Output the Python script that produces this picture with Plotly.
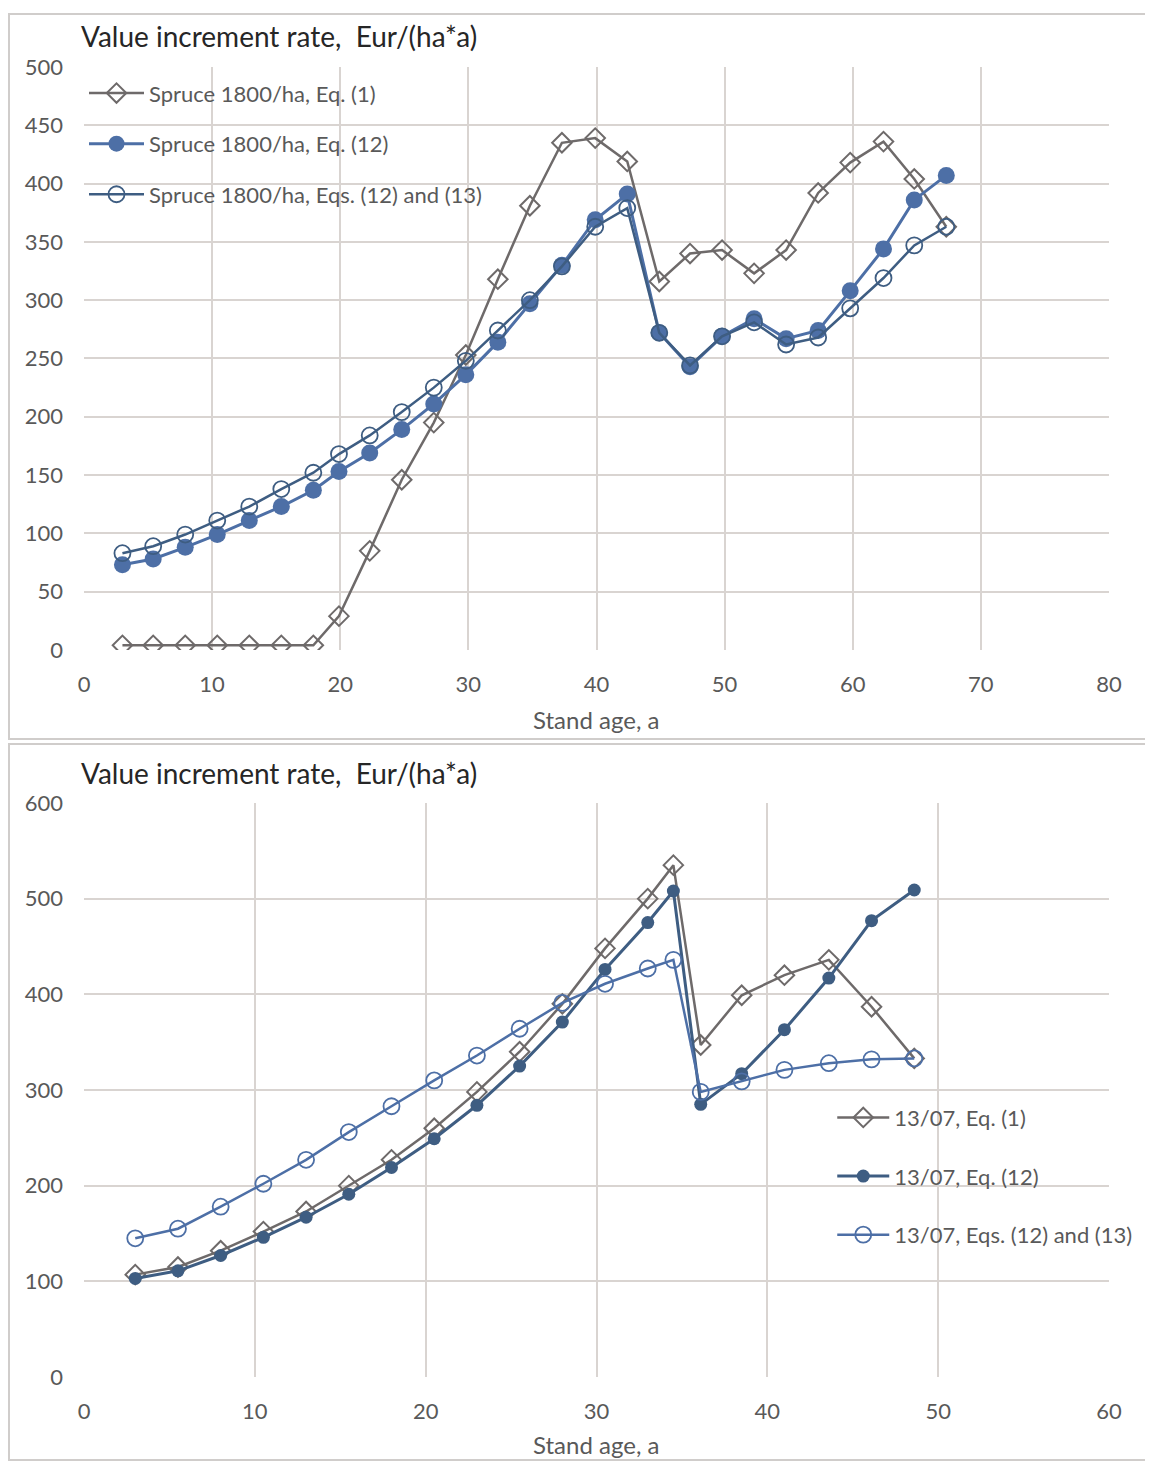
import plotly.graph_objects as go

# ---------------- data: top panel (Spruce 1800/ha) ----------------
top_age = [3, 5.4, 7.9, 10.4, 12.9, 15.4, 17.9, 19.9, 22.3, 24.8, 27.3, 29.8, 32.3, 34.8,
           37.3, 39.9, 42.4, 44.9, 47.3, 49.8, 52.3, 54.8, 57.3, 59.8, 62.4, 64.8, 67.3]
top_eq1 = [4, 4, 4, 4, 4, 4, 4, 29, 85, 146, 195, 253, 318, 381,
           435, 439, 419, 316, 340, 343, 323, 343, 392, 418, 436, 404, 363]
top_eq12 = [73, 78, 88, 99, 111, 123, 137, 153, 169, 189, 211, 236, 264, 297,
            330, 369, 391, 272, 243, 269, 284, 267, 274, 308, 344, 386, 407]
top_eq1213 = [83, 89, 99, 111, 123, 138, 152, 168, 184, 204, 225, 248, 274, 300,
              329, 363, 379, 272, 244, 269, 281, 262, 268, 293, 319, 347, 363]
top_names = ["Spruce 1800/ha, Eq. (1)", "Spruce 1800/ha, Eq. (12)",
             "Spruce 1800/ha, Eqs. (12) and (13)"]

# ---------------- data: bottom panel (13/07) ----------------
bot_age = [3, 5.5, 8, 10.5, 13, 15.5, 18, 20.5, 23, 25.5, 28, 30.5, 33, 34.5,
           36.1, 38.5, 41, 43.6, 46.1, 48.6]
bot_eq1 = [107, 115, 132, 152, 173, 200, 227, 260, 298, 340, 390, 448, 500, 535,
           347, 399, 420, 436, 387, 333]
bot_eq12 = [103, 111, 127, 146, 167, 191, 219, 249, 284, 325, 371, 426, 475, 508,
            285, 317, 363, 417, 477, 509]
bot_eq1213 = [145, 155, 178, 202, 227, 256, 283, 310, 336, 364, 391, 411, 427, 436,
              298, 309, 321, 328, 332, 333]
bot_names = ["13/07, Eq. (1)", "13/07, Eq. (12)", "13/07, Eqs. (12) and (13)"]

y_title = "Value increment rate,  Eur/(ha*a)"
x_title = "Stand age, a"

FONT = "Lato"
GRAY = "#6e6a6a"
BLUE_L = "#4d6fa6"
BLUE_D = "#3e5d82"
TXT = "#595959"
GRID = "#d9d4d1"

fig = go.Figure()

# top panel
fig.add_trace(go.Scatter(x=top_age, y=top_eq1, name=top_names[0], mode="lines+markers",
                         line=dict(color=GRAY, width=2.5),
                         marker=dict(symbol="diamond-open", size=15, color=GRAY, line=dict(width=2)),
                         xaxis="x", yaxis="y", legend="legend", legendgroup="a"))
fig.add_trace(go.Scatter(x=top_age, y=top_eq12, name=top_names[1], mode="lines+markers",
                         line=dict(color=BLUE_L, width=3),
                         marker=dict(symbol="circle", size=17, color=BLUE_L),
                         xaxis="x", yaxis="y", legend="legend", legendgroup="b"))
fig.add_trace(go.Scatter(x=top_age, y=top_eq1213, name=top_names[2], mode="lines+markers",
                         line=dict(color=BLUE_D, width=2.5),
                         marker=dict(symbol="circle-open", size=16, color=BLUE_D, line=dict(width=1.8)),
                         xaxis="x", yaxis="y", legend="legend", legendgroup="c"))

# bottom panel
fig.add_trace(go.Scatter(x=bot_age, y=bot_eq1, name=bot_names[0], mode="lines+markers",
                         line=dict(color=GRAY, width=2.5),
                         marker=dict(symbol="diamond-open", size=15, color=GRAY, line=dict(width=2)),
                         xaxis="x2", yaxis="y2", legend="legend2", legendgroup="d"))
fig.add_trace(go.Scatter(x=bot_age, y=bot_eq12, name=bot_names[1], mode="lines+markers",
                         line=dict(color=BLUE_D, width=3),
                         marker=dict(symbol="circle", size=13, color=BLUE_D),
                         xaxis="x2", yaxis="y2", legend="legend2", legendgroup="e"))
fig.add_trace(go.Scatter(x=bot_age, y=bot_eq1213, name=bot_names[2], mode="lines+markers",
                         line=dict(color=BLUE_L, width=2.5),
                         marker=dict(symbol="circle-open", size=16, color=BLUE_L, line=dict(width=1.8)),
                         xaxis="x2", yaxis="y2", legend="legend2", legendgroup="f"))

axis_common = dict(showgrid=True, gridcolor=GRID, gridwidth=2, zeroline=False,
                   showline=False, ticks="", tickfont=dict(family=FONT, size=22, color=TXT))

# page body has an 8px margin: figure placed at (8, 8)
OFF = 8
fig.update_layout(
    width=1153 - OFF, height=1461 - OFF,
    margin=dict(l=84 - OFF, r=44, t=67 - OFF, b=84),
    paper_bgcolor="white", plot_bgcolor="white",
    font=dict(family=FONT, color=TXT),
    xaxis=dict(domain=[0, 1], range=[0, 80], dtick=10, anchor="y", ticklabelstandoff=19,
               **axis_common),
    yaxis=dict(domain=[0.555, 1], range=[0, 500], dtick=50, anchor="x", ticklabelstandoff=20,
               **axis_common),
    xaxis2=dict(domain=[0, 1], range=[0, 60], dtick=10, anchor="y2", ticklabelstandoff=19,
                **axis_common),
    yaxis2=dict(domain=[0, 0.4382], range=[0, 600], dtick=100, anchor="x2", ticklabelstandoff=20,
                **axis_common),
    legend=dict(x=0.0, y=0.996, xanchor="left", yanchor="top", bgcolor="rgba(0,0,0,0)",
                font=dict(family=FONT, size=22, color=TXT), tracegroupgap=19, itemwidth=55),
    legend2=dict(x=0.730, y=0.214, xanchor="left", yanchor="top", bgcolor="rgba(0,0,0,0)",
                 font=dict(family=FONT, size=22, color=TXT), tracegroupgap=27, itemwidth=52),
    showlegend=True,
)

def px_to_paper_y(py):
    return (1377 - py) / 1310.0

def px_to_paper_x(px):
    return (px - 84) / 1025.0

# panel frames
for (y0, y1) in [(14, 739), (744, 1460)]:
    fig.add_shape(type="rect", xref="paper", yref="paper",
                  x0=px_to_paper_x(9), x1=px_to_paper_x(1152),
                  y0=px_to_paper_y(y1), y1=px_to_paper_y(y0),
                  line=dict(color="#d0cdcb", width=2), fillcolor="rgba(0,0,0,0)", layer="below")

# titles
for ty in [36, 773]:
    fig.add_annotation(xref="paper", yref="paper", x=px_to_paper_x(79), y=px_to_paper_y(ty),
                       xanchor="left", yanchor="middle", showarrow=False, text=y_title,
                       font=dict(family=FONT, size=28, color="#262626"))
for ty in [719, 1444]:
    fig.add_annotation(xref="paper", yref="paper", x=px_to_paper_x(596), y=px_to_paper_y(ty),
                       xanchor="center", yanchor="middle", showarrow=False, text=x_title,
                       font=dict(family=FONT, size=24, color=TXT))

fig.write_html("out.html")
